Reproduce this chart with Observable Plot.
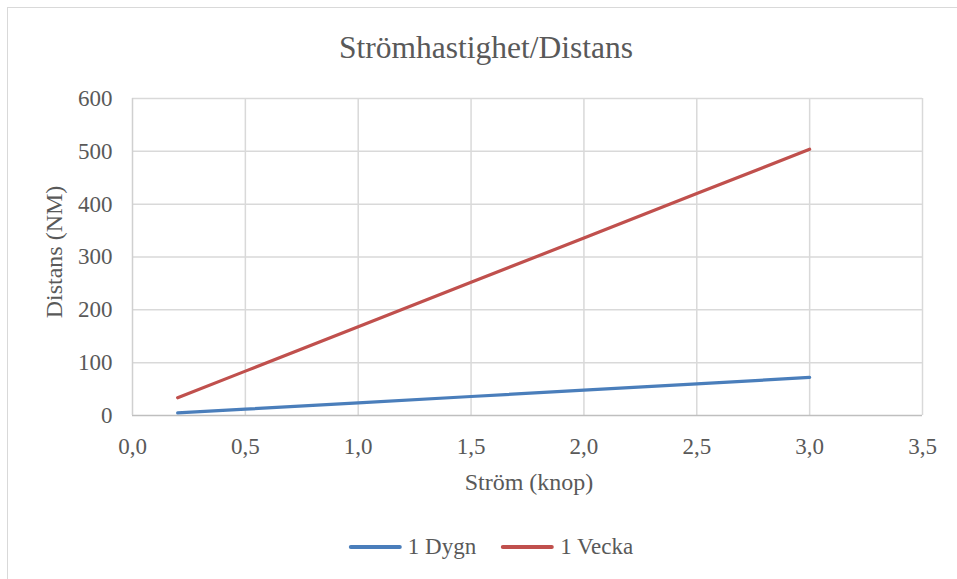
<!DOCTYPE html>
<html><head><meta charset="utf-8">
<script src="https://cdn.jsdelivr.net/npm/d3@7"></script>
<script src="https://cdn.jsdelivr.net/npm/@observablehq/plot@0.6"></script>
<style>
body{margin:0;background:#fff;font-family:"Liberation Serif","Times New Roman",serif;}
#wrap{position:relative;width:957px;height:579px;overflow:hidden;}
#border{position:absolute;left:7px;top:7px;width:960px;height:600px;border:1.5px solid #d9d9d9;box-sizing:border-box;}
.t{position:absolute;color:#595959;white-space:nowrap;}
#chart{position:absolute;left:0;top:0;}
#chart svg, #chart svg text, #chart svg g{font-family:"Liberation Serif","Times New Roman",serif !important;}
</style></head>
<body><div id="wrap"><div id="border"></div><div id="chart"></div>
<div class="t" id="title" style="left:486px;top:48px;transform:translate(-50%,-50%);font-size:31.5px;">Strömhastighet/Distans</div>
<div class="t" style="left:54px;top:252px;transform:translate(-50%,-50%) rotate(-90deg);font-size:24px;">Distans (NM)</div>
<div class="t" style="left:529px;top:482px;transform:translate(-50%,-50%);font-size:24px;">Ström (knop)</div>
<div id="legend" class="t" style="left:491px;top:547px;transform:translate(-50%,-50%);font-size:23px;display:flex;align-items:center;"></div>
</div>
<script>
const speeds = [0.2, 0.5, 1.0, 1.5, 2.0, 2.5, 3.0];
const dygn = [4.8, 12, 24, 36, 48, 60, 72];
const vecka = [33.6, 84, 168, 252, 336, 420, 504];
const seriesNames = ["1 Dygn", "1 Vecka"];
const seriesColors = ["#4a7ebb", "#c0504d"];
const xTicks = [0, 0.5, 1.0, 1.5, 2.0, 2.5, 3.0, 3.5];
const yTicks = [0, 100, 200, 300, 400, 500, 600];

const data = [];
speeds.forEach((s, i) => {
  data.push({x: s, y: dygn[i], s: seriesNames[0]});
  data.push({x: s, y: vecka[i], s: seriesNames[1]});
});

const fmt = d => d.toFixed(1).replace(".", ",");
const serif = "Liberation Serif, Times New Roman, serif";

const plot = Plot.plot({
  width: 957, height: 579,
  marginLeft: 132, marginRight: 35, marginTop: 98, marginBottom: 164,
  style: {fontFamily: serif, fontSize: "23px", color: "#595959", background: "transparent", overflow: "visible"},
  x: {domain: [0, 3.5], ticks: xTicks, tickFormat: fmt, label: null, tickSize: 0, tickPadding: 22},
  y: {domain: [0, 600], ticks: yTicks, label: null, tickSize: 0, tickPadding: 20},
  color: {domain: seriesNames, range: seriesColors},
  marks: [
    Plot.gridX(xTicks.slice(1), {stroke: "#d9d9d9", strokeOpacity: 1, strokeWidth: 1.5}),
    Plot.gridY(yTicks.slice(1), {stroke: "#d9d9d9", strokeOpacity: 1, strokeWidth: 1.5}),
    Plot.ruleY([0], {stroke: "#bfbfbf", strokeWidth: 1.5}),
    Plot.ruleX([0], {stroke: "#d0d0d0", strokeWidth: 1.5}),
    Plot.axisX({ticks: xTicks, tickFormat: fmt, tickSize: 0, tickPadding: 22, fill: "#595959", fontFamily: serif, fontSize: 23}),
    Plot.axisY({ticks: yTicks, tickSize: 0, tickPadding: 20, fill: "#595959", fontFamily: serif, fontSize: 23}),
    Plot.line(data, {x: "x", y: "y", z: "s", stroke: "s", strokeWidth: 3.2, strokeLinecap: "round"})
  ]
});
document.getElementById("chart").appendChild(plot);

const leg = document.getElementById("legend");
seriesNames.forEach((n, i) => {
  const item = document.createElement("span");
  item.style.cssText = "display:inline-flex;align-items:center;margin-right:" + (i === 0 ? "25px" : "0");
  const sw = document.createElement("span");
  sw.style.cssText = `display:inline-block;width:53px;height:3.5px;border-radius:2px;background:${seriesColors[i]};margin-right:6px;`;
  const tx = document.createElement("span");
  tx.textContent = n;
  item.appendChild(sw); item.appendChild(tx);
  leg.appendChild(item);
});
</script></body></html>
